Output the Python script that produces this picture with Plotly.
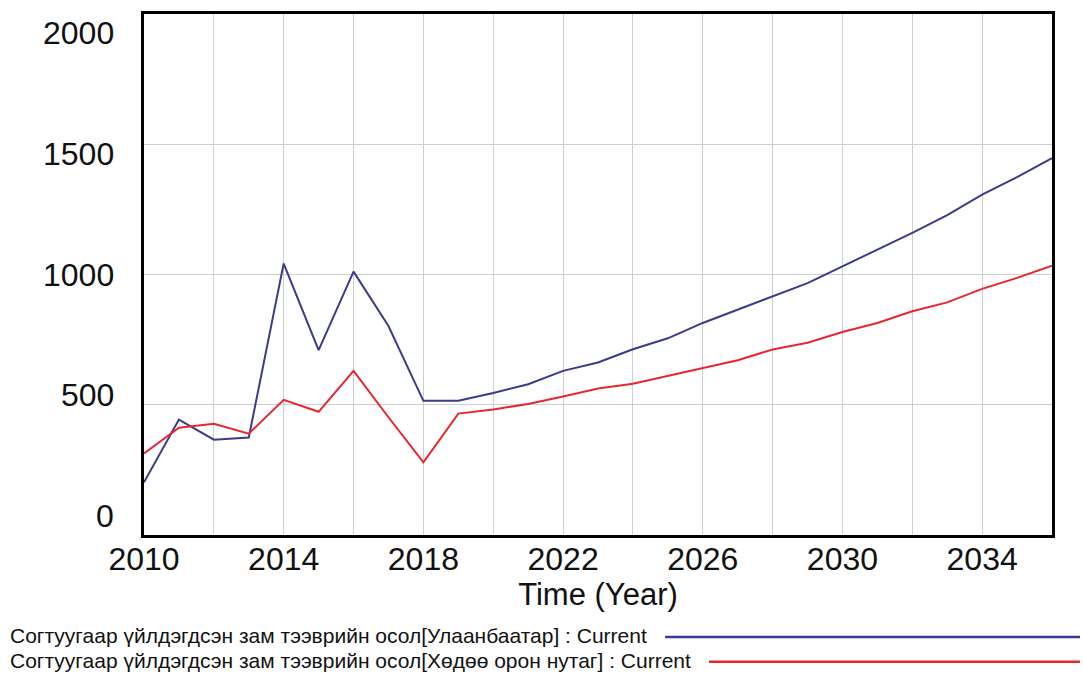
import plotly.graph_objects as go

# Simulation output, one value per year
years = list(range(2010, 2037))
ulaanbaatar = [202, 443, 366, 374, 1042, 710, 1011, 802, 515, 515,
               545, 579, 630, 662, 713, 755, 814, 865, 915, 967,
               1031, 1094, 1160, 1228, 1307, 1374, 1447]
rural = [313, 412, 427, 389, 519, 473, 630, 452, 279, 466,
         482, 503, 532, 562, 581, 611, 642, 671, 712, 738,
         779, 814, 859, 893, 945, 987, 1034]

series_names = [
    "Согтуугаар үйлдэгдсэн зам тээврийн осол[Улаанбаатар] : Current",
    "Согтуугаар үйлдэгдсэн зам тээврийн осол[Хөдөө орон нутаг] : Current",
]
series_colors = ["#3b3b8e", "#e8262e"]

y_tick_values = [0, 500, 1000, 1500, 2000]
x_title = "Time (Year)"

W, H = 1083, 674
L, R, T, B = 144, 31, 11, 139
PW, PH = W - L - R, H - T - B
FONT = "Liberation Sans, Arial, sans-serif"


def px_x(px):
    return (px - L) / PW


def px_y(py):
    return (H - B - py) / PH


fig = go.Figure()
for vals, name, col in zip([ulaanbaatar, rural], series_names, series_colors):
    fig.add_trace(go.Scatter(x=years, y=vals, mode="lines", name=name,
                             line=dict(color=col, width=2),
                             showlegend=False))

fig.update_layout(
    width=W, height=H,
    margin=dict(l=L, r=R, t=T, b=B),
    paper_bgcolor="white", plot_bgcolor="white",
    font=dict(family=FONT, color="#111111"),
)

fig.update_xaxes(
    range=[2010, 2036], tick0=2010, dtick=4, tickformat="d",
    showgrid=True, gridcolor="#cfcfcf", gridwidth=1,
    minor=dict(tick0=2010, dtick=2, showgrid=True, gridcolor="#cfcfcf", gridwidth=1),
    showline=True, mirror=True, linecolor="black", linewidth=3,
    ticks="", tickfont=dict(size=32, color="#111111"),
    ticklabelstandoff=-6,
    zeroline=False,
    title=dict(text=x_title, font=dict(size=31, color="#111111"), standoff=0),
)
fig.update_yaxes(
    range=[0, 2000], tickvals=y_tick_values,
    showgrid=True, gridcolor="#cfcfcf", gridwidth=1,
    showline=True, mirror=True, linecolor="black", linewidth=3,
    showticklabels=False, ticks="", zeroline=False,
)

# value labels on the left, spread evenly inside the axis span
for v in y_tick_values:
    fig.add_annotation(
        x=px_x(116), xref="paper", xanchor="right",
        y=v, yref="y", yanchor="middle",
        yshift=-(v - 1000) / 500 * 9.5,
        text=str(v), showarrow=False,
        font=dict(size=32, color="#111111", family=FONT),
    )

# legend rows below the axis: label then a sample line
legend_rows = [(636, 665), (661, 709)]
for (cy, lx), name, col in zip(legend_rows, series_names, series_colors):
    fig.add_annotation(
        x=px_x(8), xref="paper", xanchor="left",
        y=px_y(cy), yref="paper", yanchor="middle",
        text=name, showarrow=False,
        font=dict(size=21, color="#111111", family=FONT),
    )
    fig.add_shape(type="line", xref="paper", yref="paper",
                  x0=px_x(lx), x1=px_x(1080), y0=px_y(cy + 1.5), y1=px_y(cy + 1.5),
                  line=dict(color=col, width=2.5))

fig.write_html("out.html")
